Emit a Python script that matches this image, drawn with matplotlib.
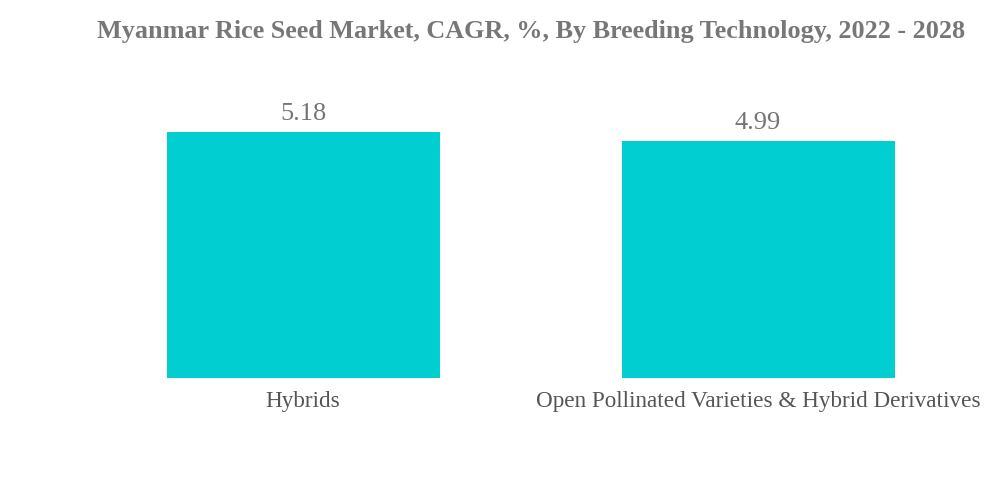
import matplotlib
matplotlib.use('Agg')
import matplotlib.pyplot as plt

# Data
categories = ['Hybrids', 'Open Pollinated Varieties & Hybrid Derivatives']
cagr_values = [5.18, 4.99]
title_text = 'Myanmar Rice Seed Market, CAGR, %, By Breeding Technology, 2022 - 2028'

bar_color = '#00CED1'

plt.rcParams['font.family'] = ['Liberation Serif', 'DejaVu Serif']

fig = plt.figure(figsize=(10, 4.83), dpi=100)
# axes placed so that the baseline sits at y=378 px and bars span the same columns
ax = fig.add_axes([0.0755, 1 - 378 / 483, 0.910, 0.59])

x = list(range(len(categories)))
bars = ax.bar(x, cagr_values, width=0.6, color=bar_color)
ax.set_xlim(-0.5, 1.5)
ax.set_ylim(0, 6.0)

for rect, val in zip(bars, cagr_values):
    ax.text(rect.get_x() + rect.get_width() / 2, val + 0.14, f'{val:.2f}',
            ha='center', va='bottom', fontsize=19, color='#757575')

ax.set_xticks(x)
ax.set_xticklabels(categories, fontsize=16.7, color='#555555')
ax.tick_params(axis='x', length=0, pad=9)
ax.set_yticks([])
for side in ['top', 'right', 'left', 'bottom']:
    ax.spines[side].set_visible(False)

fig.text(0.531, 0.934, title_text, ha='center', va='center', fontsize=18.8,
         fontweight='bold', color='#777777')

fig.savefig('out.png', dpi=100)
